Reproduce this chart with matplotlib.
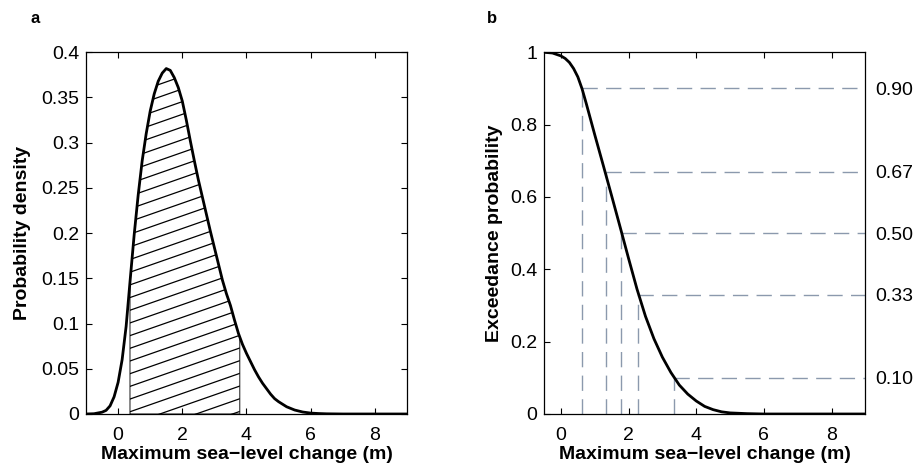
import numpy as np
import matplotlib
matplotlib.use('Agg')
import matplotlib.pyplot as plt

plt.rcParams['font.family'] = ['Liberation Sans', 'DejaVu Sans']

# panel a: probability density of maximum sea-level change
x_grid = [-1.0, -0.75, -0.5, -0.375, -0.25, -0.125, 0.0, 0.125, 0.25, 0.375, 0.5, 0.625,
          0.75, 0.875, 1.0, 1.125, 1.25, 1.375, 1.5, 1.625, 1.75, 1.875, 2.0, 2.125,
          2.25, 2.375, 2.5, 2.625, 2.75, 2.875, 3.0, 3.125, 3.25, 3.375, 3.5, 3.625,
          3.75, 3.875, 4.0, 4.125, 4.25, 4.375, 4.5, 4.625, 4.75, 4.875, 5.0, 5.25,
          5.5, 5.75, 6.0, 6.25, 6.5, 7.0, 8.0, 9.0]
density = [0.0, 0.0003, 0.002, 0.004, 0.009, 0.019, 0.035, 0.060, 0.097, 0.148, 0.198, 0.242,
           0.280, 0.310, 0.335, 0.354, 0.368, 0.377, 0.382, 0.380, 0.372, 0.361, 0.346, 0.325,
           0.302, 0.280, 0.259, 0.240, 0.221, 0.202, 0.184, 0.166, 0.148, 0.133, 0.120, 0.104,
           0.089, 0.077, 0.067, 0.058, 0.049, 0.041, 0.034, 0.028, 0.022, 0.017, 0.0136, 0.008,
           0.0044, 0.0022, 0.001, 0.0005, 0.0002, 0.0, 0.0, 0.0]

# shaded 90% interval and curve height at its edges
interval = [0.37, 3.79]
interval_dens = [0.143, 0.085]

# panel b: exceedance probability
x_exc = [-0.5, -0.25, 0.0, 0.125, 0.25, 0.375, 0.5, 0.625, 0.75, 0.875, 1.0, 1.25, 1.5,
         1.75, 2.0, 2.25, 2.5, 2.75, 3.0, 3.25, 3.5, 3.75, 4.0, 4.25, 4.5, 4.75, 5.0,
         5.5, 6.0, 7.0, 8.0, 9.0]
exceed = [1.0, 0.998, 0.99, 0.983, 0.972, 0.955, 0.932, 0.899, 0.858, 0.815, 0.772, 0.688,
          0.603, 0.517, 0.43, 0.345, 0.270, 0.208, 0.157, 0.115, 0.080, 0.055, 0.036, 0.021,
          0.012, 0.006, 0.003, 0.001, 0.0, 0.0, 0.0, 0.0]

levels = [0.90, 0.67, 0.50, 0.33, 0.10]
level_x = [0.63, 1.33, 1.79, 2.28, 3.33]
level_labels = ['0.90', '0.67', '0.50', '0.33', '0.10']

fig = plt.figure(figsize=(9.16, 4.66), dpi=100)
axa = fig.add_axes([0.0939, 0.1116, 0.3504, 0.7762])
axb = fig.add_axes([0.5939, 0.1116, 0.3508, 0.7762])

fs = 14
xlabel = 'Maximum sea\u2212level change (m)'

for ax in (axa, axb):
    ax.tick_params(direction='in', top=True, right=True, length=4, width=0.8,
                   labelsize=fs, pad=5)
    ax.tick_params(axis='x', pad=9.5)
    for s in ax.spines.values():
        s.set_linewidth(0.9)
    ax.set_xticks([0, 2, 4, 6, 8])
    ax.set_xlabel(xlabel, fontsize=fs, fontweight='bold', labelpad=1.5)

# --- panel a ---
xa = np.array(x_grid)
da = np.array(density)
inside = (xa > interval[0]) & (xa < interval[1])
hx = np.concatenate([[interval[0]], xa[inside], [interval[1]]])
hy = np.concatenate([[interval_dens[0]], da[inside], [interval_dens[1]]])
poly = axa.fill_between(hx, hy, 0, facecolor='none', edgecolor='#333333', linewidth=0.8)

# shallow hatch lines clipped to the interval
slope = 0.0124
step = 0.01403
clip = poly.get_paths()[0]
for k in range(-30, 40):
    ln, = axa.plot([-1, 9], [slope * (-1 - 1.3) + k * step, slope * (9 - 1.3) + k * step],
                   color='black', lw=0.9)
    ln.set_clip_path(clip, axa.transData)

axa.plot(x_grid, density, color='black', lw=2)
axa.set_xlim(-1, 9)
axa.set_ylim(0, 0.4)
axa.set_yticks(np.arange(0, 0.401, 0.05))
axa.set_yticklabels(['0', '0.05', '0.1', '0.15', '0.2', '0.25', '0.3', '0.35', '0.4'])
axa.set_ylabel('Probability density', fontsize=fs, fontweight='bold', labelpad=7)

# --- panel b ---
dash_col = '#8b99ad'
for lx, lv in zip(level_x, levels):
    axb.plot([lx, 9], [lv, lv], color=dash_col, lw=1, dashes=(11, 6))
    axb.plot([lx, lx], [0, lv], color=dash_col, lw=1, dashes=(11, 6))
axb.plot(x_exc, exceed, color='black', lw=2)
axb.set_xlim(-0.5, 9)
axb.set_ylim(0, 1)
axb.set_yticks([0, 0.2, 0.4, 0.6, 0.8, 1])
axb.set_yticklabels(['0', '0.2', '0.4', '0.6', '0.8', '1'])
axb.set_ylabel('Exceedance probability', fontsize=fs, fontweight='bold', labelpad=5)

ax2 = axb.twinx()
ax2.set_ylim(0, 1)
ax2.set_yticks(levels)
ax2.set_yticklabels(level_labels)
ax2.tick_params(length=0, labelsize=fs, pad=7)
for s in ax2.spines.values():
    s.set_visible(False)

fig.text(0.033, 0.96, 'a', fontsize=12, fontweight='bold', va='center')
fig.text(0.532, 0.96, 'b', fontsize=12, fontweight='bold', va='center')

fig.savefig('out.png', dpi=100)
